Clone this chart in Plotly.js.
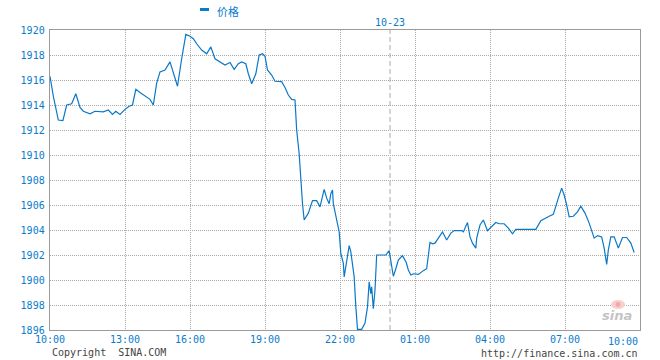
<!DOCTYPE html>
<html>
<head>
<meta charset="utf-8">
<script src="https://cdn.plot.ly/plotly-3.0.1.min.js"></script>
<style>html,body{margin:0;padding:0;background:#fff;}#chart{width:660px;height:360px;}</style>
</head>
<body>
<div id="chart"></div>
<script>
// ---- data (clock times, session runs 10:00 -> 10:00 next day) ----
const times = [
 '10:00','10:08','10:20','10:31','10:40','10:52','11:02','11:12','11:20','11:36',
 '11:48','12:08','12:20','12:30','12:38','12:48','13:00','13:34','13:42','13:50',
 '14:00','14:16','14:24','14:32','14:40','14:48','15:00','15:12','15:20','15:30',
 '15:40','15:50','16:00','16:08','16:16','16:28','16:40','16:50','17:00','17:12',
 '17:24','17:36','17:46','17:56','18:04','18:14','18:20','18:28','18:38','18:46',
 '18:54','19:00','19:06','19:16','19:24','19:40','19:48','19:56','20:04','20:12',
 '20:16','20:22','20:26','20:30','20:34','20:44','20:54','21:04','21:12','21:18',
 '21:22','21:28','21:34','21:38','21:42','21:44','21:50','21:54','21:58','22:02',
 '22:08','22:10','22:16','22:22','22:26','22:30','22:34','22:38','22:42','22:52',
 '23:00','23:06','23:10','23:14','23:16','23:20','23:24','23:28','23:50','23:58',
 '00:02','00:08','00:14','00:20','00:30','00:39','00:44','00:50','00:56','01:08',
 '01:20','01:28','01:36','01:42','01:48','01:56','02:06','02:16','02:26','02:34',
 '02:52','02:56','03:06','03:12','03:18','03:26','03:28','03:36','03:44','03:54',
 '04:04','04:14','04:22','04:34','04:44','04:54','05:02','05:50','06:02','06:12',
 '06:22','06:32','06:38','06:44','06:52','06:58','07:04','07:10','07:20','07:30',
 '07:38','07:48','07:58','08:10','08:18','08:28','08:34','08:40','08:44','08:50',
 '08:58','09:08','09:18','09:28','09:38','09:46'
];
const prices = [
 1916.3,1914.7,1912.8,1912.75,1914.0,1914.1,1914.9,1913.8,1913.5,1913.3,
 1913.5,1913.45,1913.6,1913.25,1913.5,1913.25,1913.65,1913.9,1914.0,1915.25,
 1915.0,1914.6,1914.45,1914.0,1915.75,1916.65,1916.8,1917.45,1916.5,1915.5,
 1917.7,1919.65,1919.5,1919.3,1918.9,1918.4,1918.1,1918.65,1917.7,1917.45,
 1917.2,1917.4,1916.85,1917.3,1917.45,1917.3,1916.5,1915.7,1916.5,1918.0,
 1918.1,1917.9,1916.8,1916.4,1915.9,1915.87,1915.4,1914.8,1914.45,1914.4,
 1912.0,1910.1,1908.0,1906.1,1904.8,1905.35,1906.35,1906.35,1905.85,1906.65,
 1907.25,1906.55,1906.1,1906.9,1907.2,1906.1,1905.05,1904.25,1903.85,1902.1,
 1901.35,1900.25,1901.45,1902.75,1902.25,1901.35,1900.25,1897.85,1896.05,1896.05,
 1896.55,1897.85,1899.85,1898.9,1899.45,1897.7,1899.2,1902.0,1902.0,1902.35,
 1901.4,1900.3,1900.9,1901.6,1901.95,1901.4,1900.8,1900.4,1900.5,1900.45,
 1900.75,1900.9,1903.0,1902.9,1902.95,1903.4,1903.85,1903.2,1903.75,1903.95,
 1903.95,1903.85,1904.6,1903.45,1902.95,1902.55,1903.35,1904.4,1904.8,1903.95,
 1904.3,1904.6,1904.5,1904.5,1904.15,1903.7,1904.05,1904.05,1904.75,1904.95,
 1905.1,1905.25,1906.0,1906.55,1907.35,1906.8,1906.0,1905.05,1905.1,1905.45,
 1905.9,1905.35,1904.55,1903.35,1903.55,1903.45,1902.55,1901.25,1902.4,1903.45,
 1903.45,1902.55,1903.4,1903.4,1902.95,1902.2
];
const tickLabels = ['10:00','13:00','16:00','19:00','22:00','01:00','04:00','07:00','10:00'];
const tickNextDay = [false,false,false,false,false,true,true,true,true];
const yTicks = [1896,1898,1900,1902,1904,1906,1908,1910,1912,1914,1916,1918,1920];
const seriesName = '价格';
const dayLabel = '10-23';

// session minutes since 10:00 with a 13:00-13:24 pause removed
const BREAK_START = 180, BREAK_LEN = 24;
function toSession(t, nextDay) {
  const [h, m] = t.split(':').map(Number);
  let c = h * 60 + m;
  if (nextDay === undefined) nextDay = h < 10;
  if (nextDay) c += 1440;
  c -= 600;
  if (c > BREAK_START + BREAK_LEN) c -= BREAK_LEN;
  else if (c > BREAK_START) c = BREAK_START;
  return c;
}
const xs = times.map(t => toSession(t));
const tickVals = tickLabels.map((t, i) => toSession(t, tickNextDay[i]));
const xEnd = tickVals[tickVals.length - 1];
const midnight = toSession('00:00', true);

const BLUE = '#0A7CCB';
const MONO = 'DejaVu Sans Mono, monospace';

const trace = {
  x: xs, y: prices, type: 'scatter', mode: 'lines', name: seriesName,
  line: {color: '#0A78C8', width: 1.2}, hoverinfo: 'skip', showlegend: false
};

const axisCommon = {
  showgrid: true, gridcolor: '#aaaaaa', griddash: '1px,1px', gridwidth: 1,
  showline: true, linecolor: '#9a9a9a', linewidth: 1.3, mirror: true,
  ticks: '', zeroline: false, fixedrange: true,
  tickfont: {family: MONO, size: 10, color: BLUE}
};

const layout = {
  width: 660, height: 360,
  margin: {l: 50, r: 20, t: 30, b: 30},
  paper_bgcolor: '#ffffff', plot_bgcolor: '#ffffff',
  showlegend: false,
  xaxis: Object.assign({}, axisCommon, {
    range: [0, xEnd], tickmode: 'array', tickvals: tickVals.slice(0, -1),
    ticktext: tickLabels.slice(0, -1)
  }),
  yaxis: Object.assign({}, axisCommon, {
    range: [yTicks[0], yTicks[yTicks.length - 1]], tickmode: 'array',
    tickvals: yTicks, ticktext: yTicks.map(String), ticklabelstandoff: 2
  }),
  shapes: [
    {type: 'line', xref: 'x', yref: 'paper', x0: midnight, x1: midnight, y0: 0, y1: 1,
     line: {color: '#aaaaaa', width: 1, dash: '5px,3px'}, layer: 'below'},
    {type: 'rect', xref: 'paper', yref: 'paper', x0: 0.2542, x1: 0.2695, y0: 1.0633, y1: 1.0733,
     line: {width: 0}, fillcolor: BLUE},
    // faint watermark eye
    {type: 'circle', xref: 'paper', yref: 'paper', x0: 0.9508, x1: 0.9746, y0: 0.07, y1: 0.1,
     line: {width: 0}, fillcolor: '#f8cfcf'},
    {type: 'circle', xref: 'paper', yref: 'paper', x0: 0.9585, x1: 0.9669, y0: 0.077, y1: 0.093,
     line: {width: 0}, fillcolor: '#f2a8a8'}
  ],
  annotations: [
    {xref: 'paper', yref: 'paper', x: 0.2797, y: 1, yshift: 19, xanchor: 'left', yanchor: 'middle',
     text: seriesName, showarrow: false, font: {family: 'Noto Sans CJK SC', size: 11, color: BLUE}},
    {xref: 'x', yref: 'paper', x: midnight, y: 1, yshift: 8, xanchor: 'center', yanchor: 'middle',
     text: dayLabel, showarrow: false, font: {family: MONO, size: 10, color: BLUE}},
    {xref: 'x', yref: 'paper', x: xEnd, y: 0, yshift: -11, xanchor: 'right', yanchor: 'middle',
     text: tickLabels[tickLabels.length - 1], showarrow: false, font: {family: MONO, size: 10, color: BLUE}},
    {xref: 'paper', yref: 'paper', x: 0, y: 0, yshift: -22, xanchor: 'left', yanchor: 'middle',
     text: 'Copyright\u00a0\u00a0SINA.COM', showarrow: false, font: {family: MONO, size: 10, color: '#444444'}},
    {xref: 'paper', yref: 'paper', x: 1, y: 0, yshift: -23, xanchor: 'right', yanchor: 'middle',
     text: 'http://finance.sina.com.cn', showarrow: false, font: {family: MONO, size: 10, color: '#444444'}},
    {xref: 'paper', yref: 'paper', x: 0.961, y: 0.047, xanchor: 'center', yanchor: 'middle',
     text: '<b><i>sina</i></b>', showarrow: false, font: {family: 'DejaVu Sans', size: 13, color: '#c4c4c4'}}
  ]
};

Plotly.newPlot('chart', [trace], layout, {staticPlot: true, displayModeBar: false});
</script>
</body>
</html>
